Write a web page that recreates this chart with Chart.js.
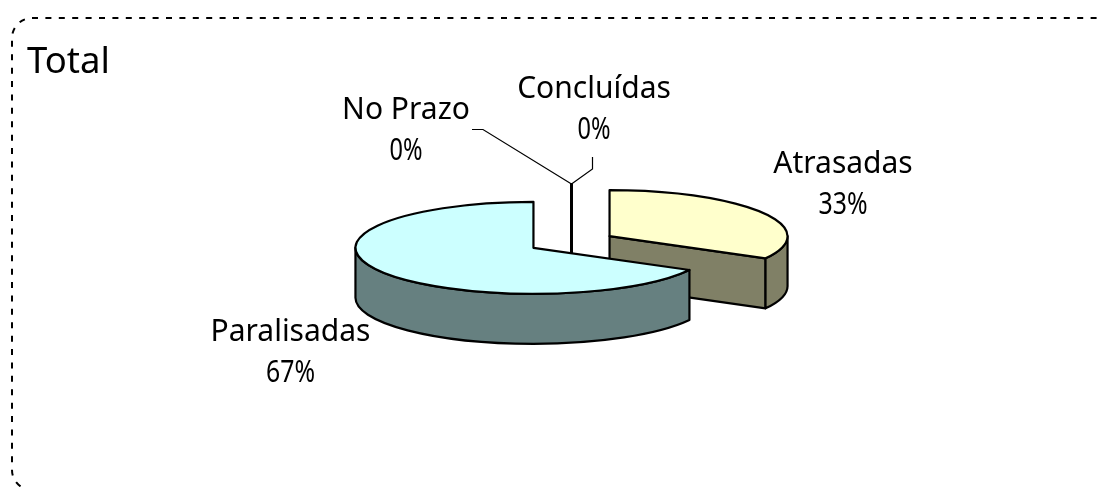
<!DOCTYPE html>
<html>
<head>
<meta charset="utf-8">
<title>Total</title>
<script src="https://cdn.jsdelivr.net/npm/chart.js@4"></script>
<style>
  html, body { margin: 0; padding: 0; background: #fff; }
  canvas { display: block; }
</style>
</head>
<body>
<canvas id="pie_chart" width="1102" height="487"></canvas>
<script>
const categories = ["Atrasadas", "Paralisadas", "No Prazo", "Concluídas"];
const percentValues = [33, 67, 0, 0];
const topColors = ["#FFFFCC", "#CCFFFF", "#FFFFCC", "#CCFFFF"];
const wallColors = ["#808066", "#668080", "#808066", "#668080"];
const chartTitle = "Total";

// 3d look of the old office pie
const SQUISH = 0.2584;
const DEPTH = 50;
const EXPLODE = 44.2;
const FONT = '30px "Noto Sans"';
const TITLE_FONT = '36.5px "Noto Sans"';

// centre of each label, line 1 and line 2 baselines
const labelSpots = [
  { x: 843, y1: 173, y2: 214 },
  { x: 290.5, y1: 341, y2: 382 },
  { x: 406, y1: 119, y2: 160 },
  { x: 594, y1: 98, y2: 139 }
];
const leaders = [
  null,
  null,
  [[472, 129.5], [483, 129.5], [571.5, 184]],
  [[592.5, 157], [592.5, 169], [571.5, 184]]
];

function slicePath(ctx, arc, cx, cy, dy) {
  const r = arc.outerRadius;
  ctx.beginPath();
  ctx.moveTo(cx, cy + dy);
  ctx.ellipse(cx, cy + dy, r, r * SQUISH, 0, arc.startAngle, arc.endAngle);
  ctx.closePath();
}

function drawSlice(ctx, arc, i) {
  const r = arc.outerRadius;
  const mid = (arc.startAngle + arc.endAngle) / 2;
  const cx = arc.x + Math.cos(mid) * EXPLODE;
  const cy = arc.y + Math.sin(mid) * EXPLODE * SQUISH;
  const empty = arc.endAngle - arc.startAngle < 0.001;

  ctx.save();
  ctx.lineJoin = "round";
  ctx.strokeStyle = "#000";
  ctx.lineWidth = empty ? 3 : 2.2;
  ctx.fillStyle = wallColors[i];

  // cut face, only the one looking at us shows
  const ex = cx + Math.cos(arc.endAngle) * r;
  const ey = cy + Math.sin(arc.endAngle) * r * SQUISH;
  if (Math.cos(arc.endAngle) > 0 || empty) {
    ctx.beginPath();
    ctx.moveTo(cx, cy);
    ctx.lineTo(ex, ey);
    ctx.lineTo(ex, ey + DEPTH);
    ctx.lineTo(cx, cy + DEPTH);
    ctx.closePath();
    ctx.fill();
    ctx.stroke();
  }

  // outer wall, front half of the ellipse
  const a0 = Math.max(arc.startAngle, 0);
  const a1 = Math.min(arc.endAngle, Math.PI);
  if (a1 > a0) {
    ctx.beginPath();
    ctx.ellipse(cx, cy, r, r * SQUISH, 0, a0, a1);
    ctx.ellipse(cx, cy + DEPTH, r, r * SQUISH, 0, a1, a0, true);
    ctx.closePath();
    ctx.fill();
    ctx.stroke();
  }

  if (!empty) {
    // top face goes through the library arc
    ctx.save();
    ctx.translate(cx, cy);
    ctx.scale(1, SQUISH);
    ctx.translate(-arc.x, -arc.y);
    arc.draw(ctx);
    ctx.restore();
    slicePath(ctx, arc, cx, cy, 0);
    ctx.stroke();
  }
  ctx.restore();
}

const pie3d = {
  id: "pie3d",
  beforeDraw(chart) {
    const ctx = chart.ctx;
    ctx.save();
    ctx.fillStyle = "#fff";
    ctx.fillRect(0, 0, chart.width, chart.height);
    ctx.strokeStyle = "#000";
    ctx.lineWidth = 2;
    ctx.setLineDash([6, 7.4]);
    ctx.beginPath();
    ctx.roundRect(12, 18, 1120, 472, 20);
    ctx.stroke();
    ctx.restore();
  },
  beforeDatasetDraw(chart) {
    const ctx = chart.ctx;
    const arcs = chart.getDatasetMeta(0).data;
    // back slice first, the big one sits in front
    [0, 2, 3, 1].forEach(i => drawSlice(ctx, arcs[i], i));
    return false;
  },
  afterDraw(chart) {
    const ctx = chart.ctx;
    ctx.save();
    ctx.fillStyle = "#000";
    ctx.font = TITLE_FONT;
    ctx.textAlign = "left";
    ctx.fillText(chartTitle, 27, 73);
    ctx.font = FONT;
    ctx.textAlign = "center";
    categories.forEach((name, i) => {
      const pct = String(percentValues[i]);
      ctx.fillText(name, labelSpots[i].x, labelSpots[i].y1);
      // the percent sign is narrower in the original
      ctx.fillText(pct + "%", labelSpots[i].x, labelSpots[i].y2, pct.length * 16 + 17);
      if (leaders[i]) {
        ctx.strokeStyle = "#000";
        ctx.lineWidth = 1.2;
        ctx.beginPath();
        leaders[i].forEach((p, n) => n ? ctx.lineTo(p[0], p[1]) : ctx.moveTo(p[0], p[1]));
        ctx.stroke();
      }
    });
    ctx.restore();
  }
};

const ctx = document.getElementById("pie_chart").getContext("2d");
new Chart(ctx, {
  type: "pie",
  data: {
    labels: categories,
    datasets: [
      {
        data: percentValues,
        backgroundColor: topColors,
        borderWidth: 0
      }
    ]
  },
  options: {
    responsive: false,
    animation: false,
    layout: { padding: { left: 41, right: 0, top: 64, bottom: 67 } },
    plugins: {
      legend: { display: false },
      tooltip: { enabled: false }
    }
  },
  plugins: [pie3d]
});
</script>
</body>
</html>
